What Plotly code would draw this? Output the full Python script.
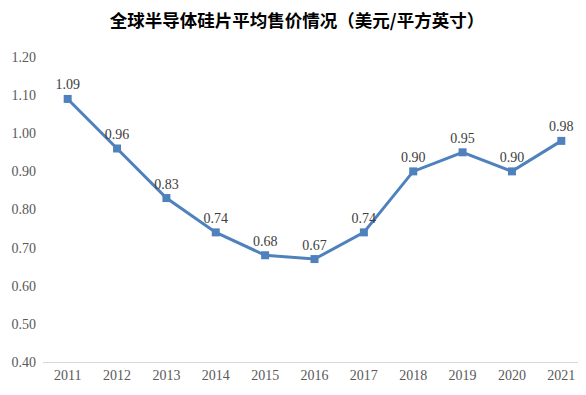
import plotly.graph_objects as go

years = ["2011", "2012", "2013", "2014", "2015", "2016", "2017", "2018", "2019", "2020", "2021"]
prices = [1.09, 0.96, 0.83, 0.74, 0.68, 0.67, 0.74, 0.90, 0.95, 0.90, 0.98]
y_ticks = [0.40, 0.50, 0.60, 0.70, 0.80, 0.90, 1.00, 1.10, 1.20]
title_text = "全球半导体硅片平均售价情况（美元/平方英寸）"

# page body has an 8px default margin, so the figure is sized to fill the rest of the window
fig = go.Figure()
fig.add_trace(go.Scatter(
    x=list(range(len(years))), y=prices,
    mode="lines+markers+text",
    line=dict(color="#4F81BD", width=3),
    marker=dict(symbol="square", size=8, color="#4F81BD"),
    text=[f"{v:.2f}" for v in prices],
    textposition="top center",
    textfont=dict(family="Liberation Serif", size=14, color="#404040"),
    cliponaxis=False,
    showlegend=False,
))

fig.update_layout(
    width=578, height=387,
    margin=dict(l=35, r=0, t=49, b=33),
    paper_bgcolor="white", plot_bgcolor="white",
    title=dict(text="<b>" + title_text + "</b>", x=0.5, xanchor="center", y=0.968, yanchor="middle",
               font=dict(family="Noto Sans CJK SC", size=17.5, color="#000000")),
    xaxis=dict(
        tickmode="array", tickvals=list(range(len(years))), ticktext=years,
        range=[-0.5, 10.5], showgrid=False, zeroline=False, automargin=False,
        showline=True, linecolor="#D9D9D9", linewidth=1, ticks="",
        tickfont=dict(family="Liberation Serif", size=14, color="#595959"),
    ),
    yaxis=dict(
        range=[0.4, 1.2], tickvals=y_ticks, ticktext=[f"{v:.2f}" for v in y_ticks],
        showgrid=False, zeroline=False, showline=False, ticks="", automargin=False,
        ticklabelstandoff=6,
        tickfont=dict(family="Liberation Serif", size=14, color="#595959"),
    ),
)

fig.write_html("out.html")
